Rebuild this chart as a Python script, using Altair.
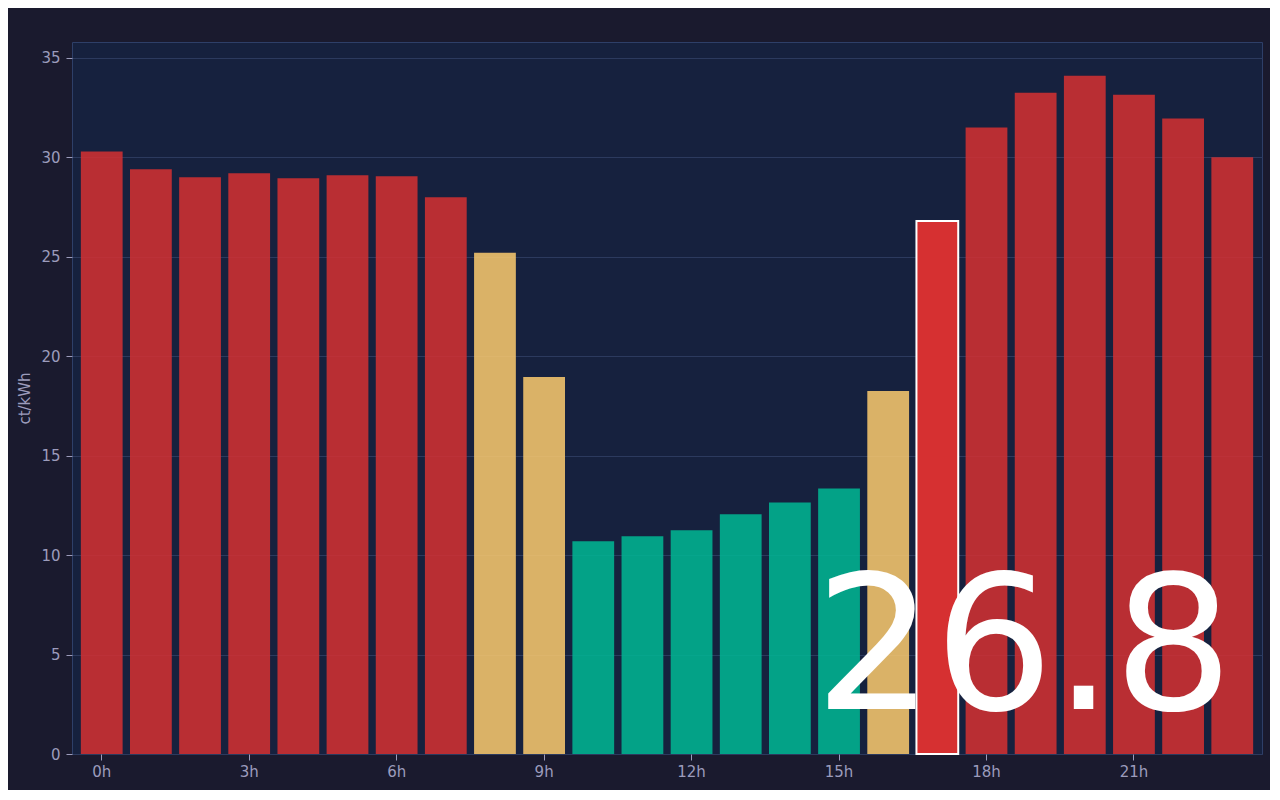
import altair as alt
import pandas as pd

hours = list(range(24))
prices = [30.3, 29.4, 29.0, 29.2, 28.95, 29.1, 29.05, 28.0, 25.2, 18.95,
          10.7, 10.95, 11.25, 12.05, 12.65, 13.35, 18.25, 26.8, 31.5, 33.25,
          34.1, 33.15, 31.95, 30.0]
levels = ["high", "high", "high", "high", "high", "high", "high", "high", "mid", "mid",
          "low", "low", "low", "low", "low", "low", "mid", "high", "high", "high",
          "high", "high", "high", "high"]
current_hour = 17
x_tick_hours = [0, 3, 6, 9, 12, 15, 18, 21]
y_ticks = [0, 5, 10, 15, 20, 25, 30, 35]

df = pd.DataFrame({"hour": hours, "price": prices, "level": levels})

LABEL = "#9c9cbc"
FONT = "DejaVu Sans"

x = alt.X(
    "hour:O",
    title=None,
    scale=alt.Scale(paddingInner=0.15, paddingOuter=0.18),
    axis=alt.Axis(
        values=x_tick_hours,
        labelExpr="datum.value + 'h'",
        labelAngle=0,
        bandPosition=0.5,
        grid=False,
        domain=False,
        tickSize=6,
        tickColor=LABEL,
        labelPadding=4,
    ),
)
y = alt.Y(
    "price:Q",
    title="ct/kWh",
    scale=alt.Scale(domain=[0, 35.8], nice=False),
    axis=alt.Axis(
        values=y_ticks,
        domain=False,
        tickSize=6,
        tickColor=LABEL,
        labelPadding=6,
        titlePadding=8,
        gridColor="#2c3a5e",
    ),
)

bars = alt.Chart(df).mark_bar(stroke="white").encode(
    x=x,
    y=y,
    color=alt.Color(
        "level:N",
        scale=alt.Scale(domain=["low", "mid", "high"],
                        range=["#00b894", "#fdcb6e", "#d63031"]),
        legend=None,
    ),
    opacity=alt.condition(f"datum.hour == {current_hour}", alt.value(1.0), alt.value(0.85)),
    strokeWidth=alt.condition(f"datum.hour == {current_hour}", alt.value(2), alt.value(0)),
)

big = alt.Chart(df).transform_filter(f"datum.hour == {current_hour}").mark_text(
    align="right", baseline="alphabetic", font=FONT, fontSize=188, color="white"
).encode(
    text=alt.Text("price:Q", format=".1f"),
    x=alt.value(1161),
    y=alt.value(667),
)

chart = (
    alt.layer(bars, big)
    .properties(
        width=1190,
        height=712,
        background="#1a1a2e",
        padding={"left": 64, "top": 34, "right": 8, "bottom": 36},
        autosize=alt.AutoSizeParams(type="none"),
    )
    .configure_view(fill="#16213e", stroke="#2e3f68", strokeWidth=1)
    .configure_axis(
        labelFont=FONT,
        labelFontSize=15,
        labelColor=LABEL,
        titleFont=FONT,
        titleFontSize=15,
        titleFontWeight="normal",
        titleColor=LABEL,
    )
)

chart.save("out.html", embed_options={"renderer": "svg", "actions": False})
